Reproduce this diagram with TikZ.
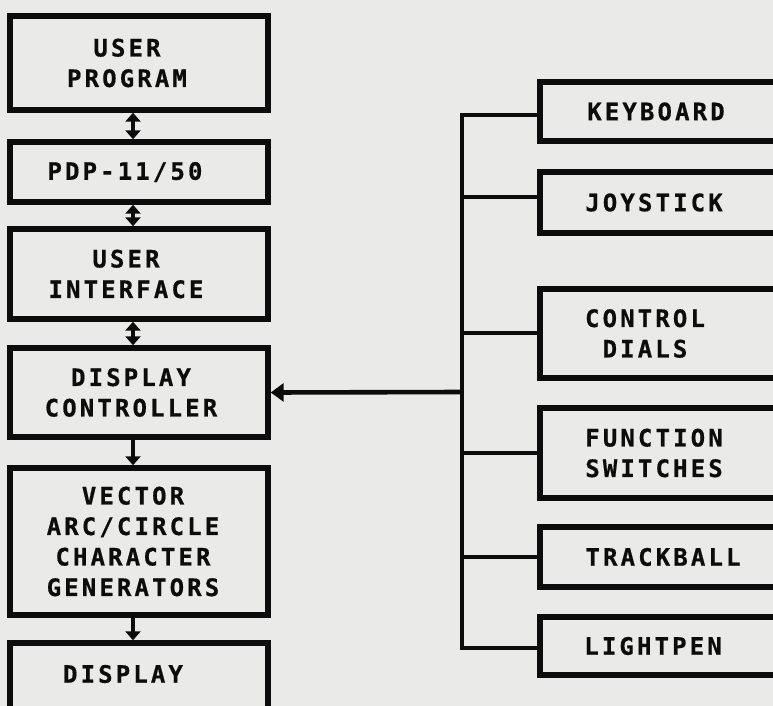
\documentclass[tikz,border=0pt]{standalone}
\usepackage{fontspec}
\newfontfamily\lettering[LetterSpace=13,FakeBold=0.6]{DejaVu Sans Mono}
\usetikzlibrary{arrows.meta,calc}
\definecolor{paper}{RGB}{234,234,232}
\definecolor{ink}{RGB}{12,12,12}
\tikzset{hd/.tip={Triangle[length=9pt,width=15pt]},
  bighd/.tip={Triangle[length=13pt,width=18pt]}}
\begin{document}
\begin{tikzpicture}[x=1pt,y=-1pt,
  box/.style={draw=ink,line width=5.4pt,minimum width=#1,inner sep=0pt},
  box/.default=258pt,
  lbl/.style={font=\lettering\bfseries\fontsize{24}{30.5}\selectfont,text=ink,align=center,inner sep=0pt},
  wire/.style={draw=ink,line width=4.6pt}]
\useasboundingbox (0,0) rectangle (773,706);
\clip (0,0) rectangle (773,706);
\fill[paper] (0,0) rectangle (773,706);
% left column boxes
\node[box,minimum height=94pt] (b1) at (139,63) {};
\node[box,minimum height=60pt] (b2) at (139,172) {};
\node[box,minimum height=90pt] (b3) at (139,274) {};
\node[box,minimum height=89pt] (b4) at (139,392.5) {};
\node[box,minimum height=147pt] (b5) at (139,541.5) {};
\node[box,minimum height=90pt] (b6) at (139,688) {};
\node[lbl] (t1) at (127,63) {USER\\PROGRAM};
\node[lbl] (t2) at (125,172) {PDP-11/50};
\node[lbl] (t3) at (126,274) {USER\\INTERFACE};
\node[lbl] (t4) at (131,392.5) {DISPLAY\\CONTROLLER};
\node[lbl] (t5) at (133,541.5) {VECTOR\\ARC/CIRCLE\\CHARACTER\\GENERATORS};
\node[lbl] (t6) at (123,674) {DISPLAY};
% right column boxes
\node[box=260pt,minimum height=59pt] (r1) at (670,111.5) {};
\node[box=260pt,minimum height=61pt] (r2) at (670,202.5) {};
\node[box=260pt,minimum height=89pt] (r3) at (670,333.5) {};
\node[box=260pt,minimum height=90pt] (r4) at (670,453) {};
\node[box=260pt,minimum height=60pt] (r5) at (670,557) {};
\node[box=260pt,minimum height=58pt] (r6) at (670,646) {};
\node[lbl] (s1) at (656,111.5) {KEYBOARD};
\node[lbl] (s2) at (654,202.5) {JOYSTICK};
\node[lbl] (s3) at (645,333.5) {CONTROL\\DIALS};
\node[lbl] (s4) at (654,453) {FUNCTION\\SWITCHES};
\node[lbl] (s5) at (663,557) {TRACKBALL};
\node[lbl] (s6) at (653,646) {LIGHTPEN};
% vertical connectors
\draw[wire,hd-hd] ([xshift=-6pt]b1.south) -- ([xshift=-6pt]b2.north);
\draw[wire,hd-hd] ([xshift=-6pt]b2.south) -- ([xshift=-6pt]b3.north);
\draw[wire,hd-hd] ([xshift=-6pt]b3.south) -- ([xshift=-6pt]b4.north);
\draw[wire,-hd] ([xshift=-6pt]b4.south) -- ([xshift=-6pt]b5.north);
\draw[wire,-hd] ([xshift=-6pt]b5.south) -- ([xshift=-6pt]b6.north);
% bus
\coordinate (j1) at (462,115);
\coordinate (j2) at (462,197);
\coordinate (j3) at (462,333);
\coordinate (j4) at (462,453);
\coordinate (j5) at (462,557);
\coordinate (j6) at (462,648);
\coordinate (jd) at (462,392);
\draw[wire,line join=miter] (j1 -| r1.west) -- (j1) -- (j6) -- (j6 -| r6.west);
\foreach \i in {2,3,4,5} \draw[wire] (j\i) -- (j\i -| r\i.west);
\draw[wire,-bighd] (jd) -- (b4.east);
\end{tikzpicture}
\end{document}
